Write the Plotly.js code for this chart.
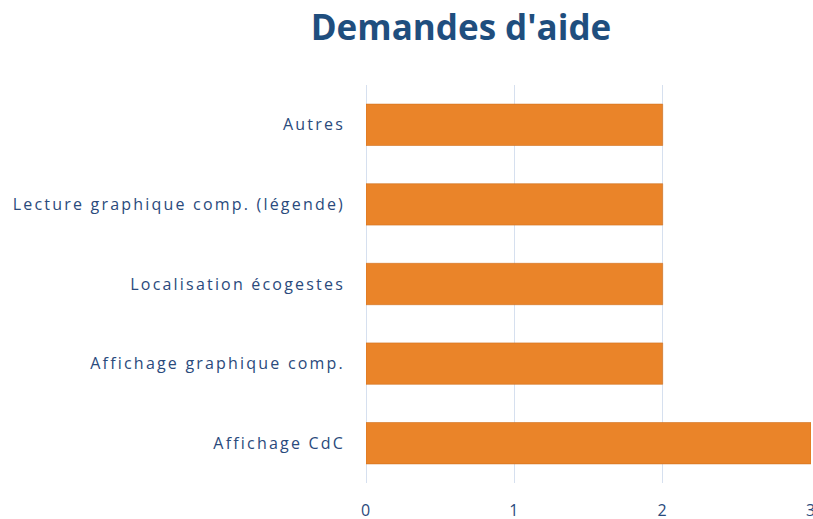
<!DOCTYPE html>
<html>
<head>
<meta charset="utf-8">
<script src="https://cdn.plot.ly/plotly-3.0.1.min.js"></script>
<style>
html,body{margin:0;padding:0;background:#fff;}
#chart{width:813px;height:519px;}
#chart .ytick text{letter-spacing:2.2px;}
#chart .xtick text{letter-spacing:1px;}
</style>
</head>
<body>
<div id="chart"></div>
<script>
const categories = ["Affichage CdC", "Affichage graphique comp.", "Localisation écogestes", "Lecture graphique comp. (légende)", "Autres"];
const values = [3, 2, 2, 2, 2];
const xTicks = [0, 1, 2, 3];

const trace = {
  type: 'bar',
  orientation: 'h',
  y: categories,
  x: values,
  width: 0.52,
  marker: {color: '#EA8429', line: {color: '#D0701F', width: 0.6}},
  hoverinfo: 'x+y'
};

const layout = {
  width: 813, height: 519,
  margin: {l: 366, r: 2, t: 85, b: 36},
  paper_bgcolor: '#ffffff', plot_bgcolor: '#ffffff',
  font: {family: 'Open Sans, sans-serif', size: 16, color: '#2A4A7C'},
  title: {text: "Demandes d'aide", x: 0.567, xanchor: 'center', xref: 'container', y: 0.946, yanchor: 'middle', yref: 'container',
          font: {family: 'Open Sans, sans-serif', size: 35, color: '#1F4E7E', weight: 'bold'}},
  xaxis: {range: [0, 3], tickvals: xTicks, ticktext: xTicks.map(String), showgrid: true, gridcolor: '#D6E0EF', gridwidth: 1,
          zeroline: true, zerolinecolor: '#D6E0EF', zerolinewidth: 1, showline: false, ticks: '', ticklabelstandoff: 16,
          ticklabeloverflow: 'allow', fixedrange: true, tickfont: {size: 16, color: '#2A4A7C'}},
  yaxis: {showgrid: false, zeroline: false, showline: false, ticks: '', ticklabelstandoff: 20, fixedrange: true},
  showlegend: false,
  bargap: 0.48
};
Plotly.newPlot('chart', [trace], layout, {displayModeBar: false, staticPlot: true});
</script>
</body>
</html>
